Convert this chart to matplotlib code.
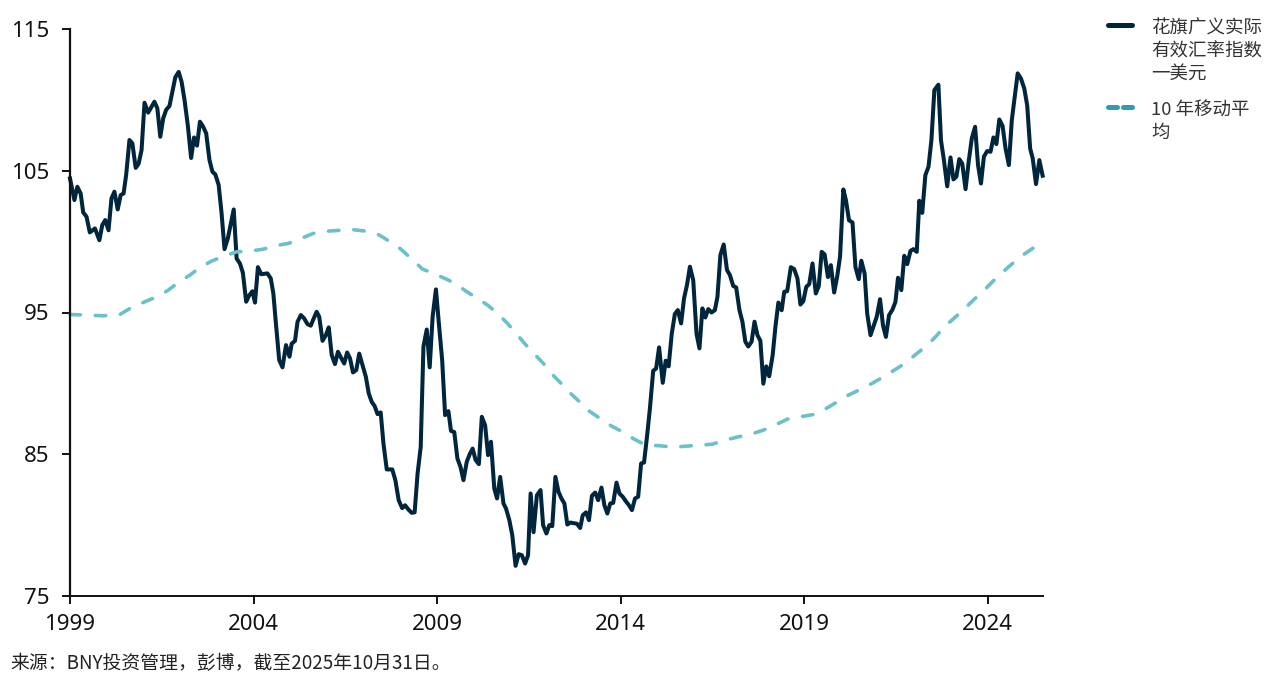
import matplotlib
matplotlib.use("Agg")
import matplotlib.pyplot as plt
from matplotlib.lines import Line2D

plt.rcParams['font.family'] = ['Noto Sans CJK SC', 'DejaVu Sans']

# 花旗广义实际有效汇率指数 (year, value)
reer_years = [
    1999.0, 1999.12, 1999.2, 1999.29, 1999.36, 1999.45, 1999.54, 1999.68, 1999.8, 1999.88, 1999.96, 2000.05,
    2000.13, 2000.21, 2000.3, 2000.38, 2000.46, 2000.53, 2000.62, 2000.7, 2000.79, 2000.87, 2000.95, 2001.03,
    2001.13, 2001.22, 2001.3, 2001.38, 2001.46, 2001.54, 2001.62, 2001.71, 2001.79, 2001.87, 2001.96, 2002.04,
    2002.12, 2002.21, 2002.3, 2002.38, 2002.46, 2002.54, 2002.62, 2002.71, 2002.8, 2002.88, 2002.96, 2003.05,
    2003.13, 2003.21, 2003.3, 2003.46, 2003.54, 2003.63, 2003.71, 2003.8, 2003.88, 2003.97, 2004.04, 2004.12,
    2004.21, 2004.38, 2004.47, 2004.54, 2004.61, 2004.7, 2004.79, 2004.885, 2004.98, 2005.04, 2005.13, 2005.2,
    2005.29, 2005.38, 2005.47, 2005.56, 2005.64, 2005.72, 2005.79, 2005.88, 2005.97, 2006.05, 2006.13, 2006.22,
    2006.3, 2006.38, 2006.47, 2006.55, 2006.63, 2006.71, 2006.8, 2006.88, 2006.97, 2007.06, 2007.14, 2007.22,
    2007.3, 2007.38, 2007.465, 2007.54, 2007.63, 2007.78, 2007.865, 2007.955, 2008.05, 2008.13, 2008.22, 2008.31,
    2008.39, 2008.47, 2008.555, 2008.63, 2008.72, 2008.8, 2008.88, 2008.97, 2009.05, 2009.14, 2009.22, 2009.31,
    2009.38, 2009.47, 2009.555, 2009.64, 2009.72, 2009.81, 2009.89, 2009.97, 2010.05, 2010.14, 2010.22, 2010.31,
    2010.39, 2010.47, 2010.56, 2010.635, 2010.72, 2010.81, 2010.88, 2010.97, 2011.05, 2011.14, 2011.225, 2011.31,
    2011.4, 2011.48, 2011.55, 2011.63, 2011.72, 2011.82, 2011.89, 2011.98, 2012.06, 2012.14, 2012.225, 2012.31,
    2012.39, 2012.47, 2012.55, 2012.63, 2012.81, 2012.9, 2012.97, 2013.06, 2013.14, 2013.22, 2013.31, 2013.39,
    2013.48, 2013.56, 2013.64, 2013.72, 2013.8, 2013.89, 2013.97, 2014.06, 2014.14, 2014.23, 2014.31, 2014.395,
    2014.48, 2014.56, 2014.64, 2014.72, 2014.8, 2014.89, 2014.97, 2015.05, 2015.15, 2015.23, 2015.31, 2015.395,
    2015.48, 2015.56, 2015.65, 2015.73, 2015.81, 2015.89, 2015.98, 2016.07, 2016.15, 2016.23, 2016.31, 2016.39,
    2016.48, 2016.57, 2016.64, 2016.72, 2016.81, 2016.9, 2016.98, 2017.07, 2017.15, 2017.24, 2017.32, 2017.4,
    2017.48, 2017.57, 2017.65, 2017.73, 2017.81, 2017.89, 2017.97, 2018.05, 2018.145, 2018.22, 2018.3, 2018.39,
    2018.46, 2018.54, 2018.64, 2018.73, 2018.82, 2018.9, 2018.98, 2019.06, 2019.14, 2019.23, 2019.32, 2019.4,
    2019.48, 2019.56, 2019.65, 2019.73, 2019.82, 2019.9, 2019.98, 2020.07, 2020.14, 2020.225, 2020.32, 2020.4,
    2020.49, 2020.56, 2020.65, 2020.72, 2020.81, 2020.98, 2021.07, 2021.15, 2021.23, 2021.315, 2021.41, 2021.49,
    2021.56, 2021.65, 2021.73, 2021.81, 2021.9, 2021.98, 2022.07, 2022.14, 2022.22, 2022.305, 2022.39, 2022.47,
    2022.55, 2022.66, 2022.73, 2022.81, 2022.9, 2022.99, 2023.07, 2023.15, 2023.23, 2023.31, 2023.4, 2023.49,
    2023.57, 2023.66, 2023.74, 2023.82, 2023.9, 2023.99, 2024.08, 2024.16, 2024.24, 2024.32, 2024.41, 2024.49,
    2024.58, 2024.66, 2024.74, 2024.82, 2024.91, 2025.0, 2025.08, 2025.16, 2025.23, 2025.32, 2025.41, 2025.5,
]
reer_values = [
    104.46, 102.93, 103.87, 103.4, 102.06, 101.76, 100.65, 100.93, 100.1, 101.17, 101.52, 100.8,
    103.05, 103.52, 102.27, 103.28, 103.4, 104.7, 107.17, 106.93, 105.2, 105.5, 106.46, 109.8,
    109.1, 109.5, 109.87, 109.4, 107.4, 108.7, 109.3, 109.57, 110.58, 111.6, 111.97, 111.28,
    110.0, 108.2, 105.9, 107.35, 106.77, 108.46, 108.15, 107.64, 105.76, 104.93, 104.74, 104.0,
    102.0, 99.47, 100.22, 102.27, 98.8, 98.46, 97.8, 95.76, 96.2, 96.5, 95.7, 98.2,
    97.7, 97.76, 97.4, 96.35, 94.23, 91.64, 91.13, 92.7, 91.88, 92.8, 93.0, 94.35,
    94.82, 94.58, 94.18, 94.07, 94.58, 95.05, 94.7, 93.0, 93.4, 93.95, 92.0, 91.36,
    92.23, 91.83, 91.4, 92.18, 91.76, 90.77, 90.94, 92.1, 91.29, 90.47, 89.29, 88.7,
    88.4, 87.83, 87.95, 85.76, 83.93, 83.93, 83.17, 81.76, 81.2, 81.4, 81.1, 80.87,
    80.9, 83.64, 85.5, 92.6, 93.8, 91.13, 94.7, 96.63, 94.23, 91.64, 87.76, 88.04,
    86.65, 86.56, 84.7, 84.1, 83.17, 84.47, 85.0, 85.4, 84.6, 84.3, 87.64, 87.05,
    84.94, 85.88, 82.58, 81.88, 83.4, 81.53, 81.17, 80.35, 79.29, 77.13, 77.95, 77.88,
    77.29, 77.88, 82.23, 79.5, 82.1, 82.47, 80.0, 79.41, 80.0, 79.93, 83.4, 82.35,
    81.88, 81.53, 80.04, 80.18, 80.1, 79.8, 80.7, 80.9, 80.35, 82.07, 82.3, 81.76,
    82.65, 81.4, 80.82, 81.53, 81.57, 83.0, 82.23, 82.0, 81.7, 81.4, 81.06, 81.88,
    82.0, 84.35, 84.42, 86.23, 88.23, 90.89, 91.05, 92.54, 90.04, 91.6, 91.2, 93.5,
    94.89, 95.17, 94.23, 96.0, 96.94, 98.23, 97.29, 93.5, 92.47, 95.29, 94.65, 95.24,
    95.0, 95.17, 96.1, 99.05, 99.8, 98.0, 97.64, 96.87, 96.77, 95.17, 94.35, 92.94,
    92.6, 92.94, 94.35, 93.4, 93.0, 89.98, 91.2, 90.5, 92.0, 94.0, 95.7, 95.16,
    96.46, 96.5, 98.2, 98.06, 97.4, 95.56, 95.8, 96.81, 97.0, 98.46, 96.34, 96.86,
    99.28, 99.1, 97.5, 98.34, 96.41, 97.5, 98.93, 103.68, 102.93, 101.5, 101.35, 98.2,
    97.35, 98.65, 97.75, 94.93, 93.4, 94.7, 95.94, 94.1, 93.28, 94.81, 95.21, 95.75,
    97.45, 96.58, 99.0, 98.41, 99.35, 99.47, 99.28, 102.88, 102.03, 104.69, 105.28, 107.16,
    110.69, 111.07, 107.16, 105.75, 103.9, 105.94, 104.39, 104.58, 105.82, 105.5, 103.7, 105.75,
    107.28, 108.1, 105.4, 104.1, 106.0, 106.39, 106.34, 107.35, 106.88, 108.62, 108.15, 106.57,
    105.4, 108.57, 110.2, 111.87, 111.5, 110.8, 109.6, 106.57, 105.87, 104.06, 105.75, 104.65,
]

# 10 年移动平均
ma_years = [
    1999.0, 1999.91, 2000.36, 2000.63, 2001.04, 2001.36, 2001.68, 2001.95, 2002.27, 2002.54, 2002.86, 2003.22,
    2003.54, 2003.9, 2004.27, 2004.59, 2004.95, 2005.27, 2005.63, 2006.0, 2006.36, 2006.72, 2007.06, 2007.4,
    2007.72, 2008.0, 2008.3, 2008.6, 2009.0, 2009.3, 2009.52, 2009.81, 2010.13, 2010.4, 2010.67, 2010.92,
    2011.17, 2011.4, 2011.65, 2011.9, 2012.13, 2012.38, 2012.62, 2012.9, 2013.15, 2013.44, 2013.76, 2014.06,
    2014.35, 2014.69, 2015.08, 2015.42, 2015.79, 2016.14, 2016.5, 2016.85, 2017.21, 2017.53, 2017.89, 2018.21,
    2018.55, 2018.89, 2019.25, 2019.57, 2019.98, 2020.2, 2020.52, 2020.84, 2021.16, 2021.48, 2021.77, 2022.05,
    2022.34, 2022.6, 2022.82, 2023.11, 2023.36, 2023.63, 2023.89, 2024.13, 2024.4, 2024.68, 2024.96, 2025.25,
    2025.32,
]
ma_values = [
    94.86, 94.77, 94.86, 95.28, 95.76, 96.1, 96.58, 97.12, 97.64, 98.18, 98.63, 99.0,
    99.28, 99.33, 99.47, 99.71, 99.87, 100.2, 100.58, 100.74, 100.8, 100.84, 100.74, 100.5,
    100.0, 99.5, 98.8, 98.07, 97.65, 97.3, 97.0, 96.47, 95.95, 95.48, 94.87, 94.23,
    93.48, 92.77, 92.07, 91.4, 90.66, 90.0, 89.34, 88.66, 88.04, 87.53, 86.98, 86.58,
    86.1, 85.64, 85.6, 85.5, 85.57, 85.64, 85.71, 86.0, 86.23, 86.4, 86.7, 87.06,
    87.48, 87.64, 87.8, 88.18, 88.81, 89.16, 89.56, 89.98, 90.45, 90.97, 91.45, 92.06,
    92.65, 93.33, 93.99, 94.65, 95.23, 95.92, 96.53, 97.16, 97.82, 98.46, 99.05, 99.56,
    99.72,
]

year_ticks = [1999, 2004, 2009, 2014, 2019, 2024]
value_ticks = [75, 85, 95, 105, 115]

DARK = '#00263e'
TEAL = '#6cc0ca'
TEAL_KEY = '#2f9cb0'

fig = plt.figure(figsize=(12.8, 6.86), dpi=100)
ax = fig.add_axes([70 / 1280, 1 - 596 / 686, 973 / 1280, 567 / 686])

ax.plot(reer_years, reer_values, color=DARK, lw=2.9, solid_joinstyle='round', clip_on=False)
ax.plot(ma_years, ma_values, color=TEAL, lw=2.6, dashes=(2.9, 4.1), dash_capstyle='round', clip_on=False)

ax.set_xlim(1999, 2025.51)
ax.set_ylim(75, 115)
ax.set_xticks(year_ticks)
ax.set_yticks(value_ticks)
ax.tick_params(axis='both', labelsize=16, length=6, width=1.4, color='#111111', labelcolor='#111111')
ax.tick_params(axis='x', pad=7)
ax.tick_params(axis='y', pad=9)
for label in ax.get_xticklabels() + ax.get_yticklabels():
    label.set_family('Noto Sans')
for label in ax.get_yticklabels():
    label.set_verticalalignment('center_baseline')

for side in ['top', 'right']:
    ax.spines[side].set_visible(False)
ax.spines['left'].set_linewidth(1.6)
ax.spines['bottom'].set_linewidth(1.4)
ax.spines['left'].set_color('#111111')
ax.spines['bottom'].set_color('#111111')

# legend drawn by hand, the key sits on the first line of the label
fig.add_artist(Line2D([1108 / 1280, 1132 / 1280], [1 - 25 / 686] * 2, color=DARK, lw=3.6, solid_capstyle='round'))
fig.add_artist(Line2D([1108 / 1280, 1132 / 1280], [1 - 107 / 686] * 2, color=TEAL_KEY, lw=3.6,
                      dashes=(1.8, 1.2), dash_capstyle='round'))
fig.text(1151 / 1280, 1 - 20 / 686, '花旗广义实际\n有效汇率指数\n一美元', fontsize=13.3, va='top', ha='left',
         color='#333333', linespacing=1.32)
fig.text(1151 / 1280, 1 - 101 / 686, '10 年移动平\n均', fontsize=13.3, va='top', ha='left',
         color='#333333', linespacing=1.32)

fig.text(10 / 1280, 1 - 664 / 686, '来源：BNY投资管理，彭博，截至2025年10月31日。', fontsize=13.55, va='center', ha='left',
         color='#222222')

fig.savefig('out.png', dpi=100)
